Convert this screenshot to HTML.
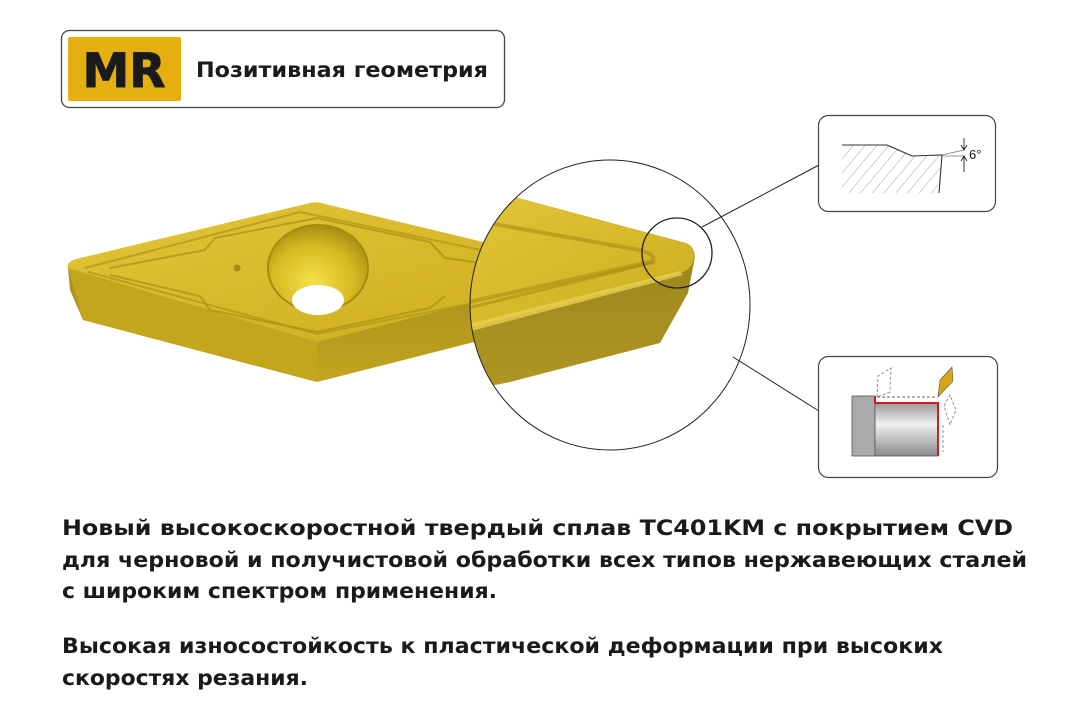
<!DOCTYPE html>
<html><head><meta charset="utf-8"><style>
html,body{margin:0;padding:0;background:#fff;}
svg{display:block}
text{font-family:"DejaVu Sans","Liberation Sans",sans-serif;font-weight:bold;fill:#1a1a1a}
</style></head><body>
<svg width="1080" height="720" viewBox="0 0 1080 720" xmlns="http://www.w3.org/2000/svg">
<defs>
<linearGradient id="top" x1="0" y1="0" x2="1" y2="1">
<stop offset="0" stop-color="#e2c53a"/><stop offset="0.5" stop-color="#d8b92a"/><stop offset="1" stop-color="#ccac1e"/>
</linearGradient>
<linearGradient id="side" x1="0" y1="0" x2="0" y2="1">
<stop offset="0" stop-color="#a88f1c"/><stop offset="1" stop-color="#c2a420"/>
</linearGradient>
<linearGradient id="side2" x1="0" y1="0" x2="0" y2="1">
<stop offset="0" stop-color="#94801c"/><stop offset="1" stop-color="#b09622"/>
</linearGradient>
<radialGradient id="hole" cx="0.45" cy="0.65" r="0.7">
<stop offset="0" stop-color="#f5e04a"/><stop offset="0.6" stop-color="#d6b820"/><stop offset="1" stop-color="#9c840e"/>
</radialGradient>
<linearGradient id="cyl" x1="0" y1="0" x2="0" y2="1">
<stop offset="0" stop-color="#9a9a9a"/><stop offset="0.4" stop-color="#f0f0f0"/><stop offset="1" stop-color="#8a8a8a"/>
</linearGradient>
<pattern id="hatch" width="9" height="9" patternUnits="userSpaceOnUse" patternTransform="rotate(40)">
<line x1="0" y1="0" x2="0" y2="9" stroke="#999" stroke-width="0.9"/>
</pattern>
<clipPath id="outside"><path d="M0,0 H1080 V720 H0 Z M470,305 A140,145 0 1,0 750,305 A140,145 0 1,0 470,305 Z" clip-rule="evenodd"/></clipPath>
<clipPath id="inside"><ellipse cx="610" cy="305" rx="140" ry="145"/></clipPath>
</defs>

<rect x="61.5" y="30.5" width="443" height="77" rx="8" fill="#fff" stroke="#444" stroke-width="1.3"/>
<rect x="68" y="37" width="113" height="64" fill="#e5b00f" rx="2"/>
<text x="124" y="87" font-size="47" text-anchor="middle" fill="#222" stroke="#222" stroke-width="1">MR</text>
<text x="196" y="77" font-size="21.5" textLength="292" lengthAdjust="spacingAndGlyphs">Позитивная геометрия</text>

<g clip-path="url(#outside)">
<path d="M68,268 L70,290 L83,320 L317,382 L600,310 L600,270 Z" fill="url(#side)"/>
<path d="M68,268 L83,320 L317,382 L317,342 Z" fill="#c4a61e"/>
<path d="M68,268 Q66,262 76,259 L310,203 Q317,201 325,204 L600,270 L317,342 Z" fill="url(#top)"/>
<path d="M85,268 L300,212 L600,275 M88,272 L317,334 L600,278" fill="none" stroke="#b39818" stroke-width="2" opacity="0.8"/>
<path d="M110,268 L205,250 L215,238 L317,218 L430,242 L445,258 L600,280 M110,275 L200,296 L210,310 L317,332 L430,308 L445,296" fill="none" stroke="#a88e14" stroke-width="2" opacity="0.7"/>
<ellipse cx="318" cy="268" rx="50" ry="43" fill="url(#hole)"/>
<ellipse cx="318" cy="268" rx="50" ry="43" fill="none" stroke="#a48a10" stroke-width="2"/>
<ellipse cx="318" cy="300" rx="26" ry="15" fill="#fff"/>
<circle cx="237" cy="268" r="3.5" fill="#a88c0e"/>
</g>

<g clip-path="url(#inside)">
<path d="M460,205 L507,195 L686,243 Q697,248 694,262 L688,293 L660,343 L510,382 L460,392 Z" fill="url(#side2)"/>
<path d="M460,200 L507,195 L686,243 Q698,250 692,264 Q688,271 680,273 L475,326 L460,330 Z" fill="url(#top)"/>
<path d="M460,326 L680,271 L683,275 L460,334 Z" fill="#e8d050" opacity="0.8"/>
<path d="M460,218 L640,250 Q660,256 650,262 L460,304" fill="none" stroke="#a88e14" stroke-width="4" opacity="0.6"/>
<path d="M460,310 L655,262" fill="none" stroke="#9c8412" stroke-width="3" opacity="0.5"/>
</g>

<ellipse cx="610" cy="305" rx="140" ry="145" fill="none" stroke="#222" stroke-width="1"/>
<circle cx="677" cy="253" r="35" fill="none" stroke="#222" stroke-width="1.3"/>
<line x1="702" y1="227" x2="819" y2="165" stroke="#222" stroke-width="1"/>
<line x1="733" y1="357" x2="819" y2="411" stroke="#222" stroke-width="1"/>

<rect x="818.5" y="115.5" width="177" height="96" rx="10" fill="#fff" stroke="#444" stroke-width="1.2"/>
<path d="M842,145 L887,145 L912,156 L942,155 L939,193 L842,193 Z" fill="url(#hatch)"/>
<path d="M842,145 L887,145 L912,156 L942,155 L939,193" fill="none" stroke="#333" stroke-width="1.1"/>
<line x1="942" y1="155" x2="964" y2="150" stroke="#777" stroke-width="0.7"/>
<line x1="942" y1="156" x2="964" y2="156" stroke="#777" stroke-width="0.7"/>
<path d="M964,138 L964,150 M961,145 L964,150 L967,145 M964,172 L964,156 M961,161 L964,156 L967,161" stroke="#222" stroke-width="0.9" fill="none"/>
<text x="969" y="159" font-size="13" style="font-weight:normal;font-family:'Liberation Sans',sans-serif" fill="#222">6°</text>

<rect x="818.5" y="356.5" width="179" height="121" rx="10" fill="#fff" stroke="#444" stroke-width="1.2"/>
<rect x="852" y="396" width="23" height="60" fill="#aaa" stroke="#555" stroke-width="0.8"/>
<rect x="875" y="403" width="63" height="53" fill="url(#cyl)" stroke="#555" stroke-width="0.8"/>
<path d="M875,396 L875,403 L938,403 L938,456" fill="none" stroke="#d41a1a" stroke-width="2"/>
<polygon points="938,397 940,380 952,367 953,381" fill="#d4a514" stroke="#555" stroke-width="0.6"/>
<path d="M877,397 L937,397" stroke="#666" stroke-dasharray="3,2" fill="none"/>
<path d="M877,397 L878,376 L891,368 L890,392 Z M944,406 L950,395 L956,410 L950,425 Z M943,425 L943,452" stroke="#777" stroke-dasharray="3,2" fill="none" stroke-width="0.8"/>

<text x="62" y="535" font-size="21.5" textLength="951" lengthAdjust="spacingAndGlyphs">Новый высокоскоростной твердый сплав TC401KM с покрытием CVD</text>
<text x="62" y="567" font-size="21.5" textLength="965" lengthAdjust="spacingAndGlyphs">для черновой и получистовой обработки всех типов нержавеющих сталей</text>
<text x="62" y="598" font-size="21.5" textLength="435" lengthAdjust="spacingAndGlyphs">с широким спектром применения.</text>
<text x="62" y="653" font-size="21.5" textLength="881" lengthAdjust="spacingAndGlyphs">Высокая износостойкость к пластической деформации при высоких</text>
<text x="62" y="685" font-size="21.5" textLength="246" lengthAdjust="spacingAndGlyphs">скоростях резания.</text>
</svg>
</body></html>
